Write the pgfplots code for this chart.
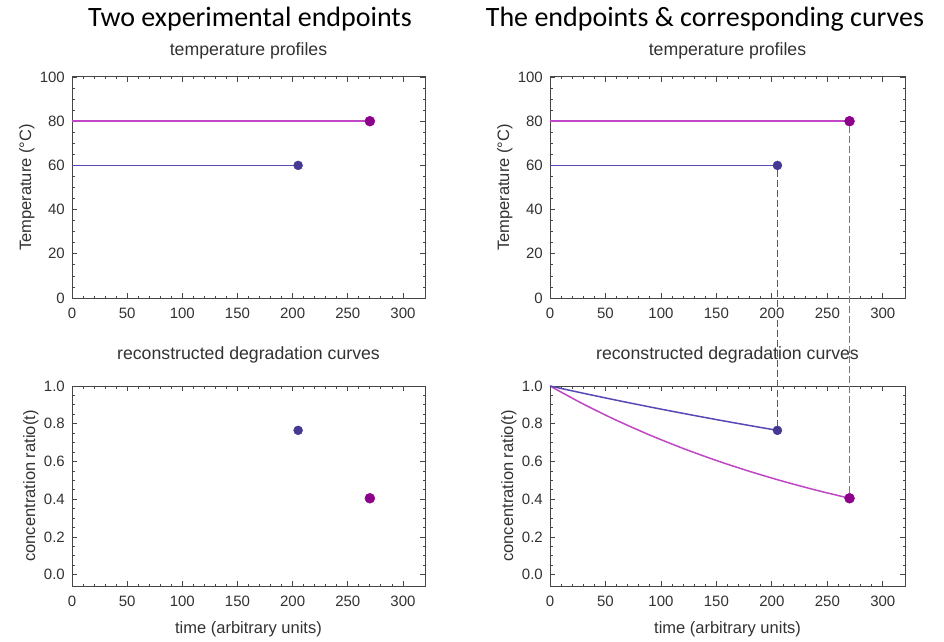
\documentclass[border=0pt]{standalone}
\usepackage{pgfplots}
\pgfplotsset{compat=1.18}
\usepackage{fontspec}
\setmainfont{Liberation Sans}
\newfontfamily\titlefont{Carlito}
\definecolor{blueDot}{RGB}{68,58,148}
\definecolor{blueLine}{RGB}{88,72,182}
\definecolor{magDot}{RGB}{140,0,140}
\definecolor{magLine}{RGB}{192,70,198}
\definecolor{frameC}{RGB}{70,70,70}
\definecolor{txtC}{RGB}{50,50,50}

\pgfplotsset{
  base/.style={
    scale only axis, anchor=south west, clip=false,
    xmin=0, xmax=320,
    xtick={0,50,100,150,200,250,300},
    xticklabels={0,50,100,150,200,250,300},
    minor x tick num=4,
    tick align=inside,
    major tick length=5pt, minor tick length=2.5pt,
    axis line style={frameC, line width=1pt},
    every tick/.style={frameC, line width=0.8pt},
    tick label style={font=\fontsize{15}{17}\selectfont, text=txtC},
    xticklabel style={anchor=base, yshift=-20pt, inner sep=0pt},
    yticklabel style={anchor=east, xshift=-7pt, inner sep=0pt},
    label style={font=\fontsize{16.5}{20}\selectfont, text=txtC},
    xlabel style={at={(axis description cs:0.5,0)}, anchor=base, yshift=-47pt},
    title style={font=\fontsize{17.7}{21}\selectfont, text=txtC, at={(0.5,1)}, anchor=base},
  },
  topax/.style={base, height=221pt,
    ymin=0, ymax=100, ytick={0,20,40,60,80,100},
    yticklabels={0,20,40,60,80,100}, minor y tick num=3,
    title={temperature profiles}, title style={yshift=15pt},
    ylabel={Temperature (°C)},
    ylabel style={anchor=base},
  },
  botax/.style={base, height=200pt,
    ymin=-0.06, ymax=1.0, ytick={0,0.2,0.4,0.6,0.8,1.0},
    yticklabels={0.0,0.2,0.4,0.6,0.8,1.0}, minor y tick num=3,
    title={reconstructed degradation curves}, title style={yshift=21pt},
    xlabel={time (arbitrary units)},
    ylabel={concentration ratio(t)},
    ylabel style={anchor=base},
  },
}

\begin{document}
\begin{tikzpicture}
\path[use as bounding box] (0,0) rectangle (944pt,641pt);

\node[anchor=base, font=\titlefont\fontsize{28}{32}\selectfont] at (250pt,614pt) {Two experimental endpoints};
\node[anchor=base, font=\titlefont\fontsize{28}{32}\selectfont] at (705pt,614pt) {The endpoints \& corresponding curves};

% top left
\begin{axis}[topax, width=353pt, at={(72pt,343pt)},
  ylabel style={at={(axis description cs:-0.1161,0.5)}}]
\addplot[color=magLine, line width=1.8pt] coordinates {(0,80) (270,80)};
\addplot[color=blueLine, line width=1.5pt] coordinates {(0,60) (205,60)};
\addplot[only marks, mark=*, mark size=5pt, color=magDot] coordinates {(270,80)};
\addplot[only marks, mark=*, mark size=4.5pt, color=blueDot] coordinates {(205,60)};
\end{axis}

% bottom left
\begin{axis}[botax, width=353pt, at={(72pt,55pt)},
  ylabel style={at={(axis description cs:-0.1048,0.5)}}]
\addplot[only marks, mark=*, mark size=4.5pt, color=blueDot] coordinates {(205,0.765)};
\addplot[only marks, mark=*, mark size=5pt, color=magDot] coordinates {(270,0.405)};
\end{axis}

% top right
\begin{axis}[topax, width=355pt, at={(550pt,343pt)},
  ylabel style={at={(axis description cs:-0.1155,0.5)}}]
\addplot[color=magLine, line width=1.8pt] coordinates {(0,80) (270,80)};
\addplot[color=blueLine, line width=1.5pt] coordinates {(0,60) (205,60)};
\addplot[only marks, mark=*, mark size=5pt, color=magDot] coordinates {(270,80)};
\addplot[only marks, mark=*, mark size=4.5pt, color=blueDot] coordinates {(205,60)};
\coordinate (tb) at (axis cs:205,60);
\coordinate (tm) at (axis cs:270,80);
\end{axis}

% bottom right
\begin{axis}[botax, width=355pt, at={(550pt,55pt)},
  ylabel style={at={(axis description cs:-0.1042,0.5)}}]
\addplot[color=magLine, line width=1.5pt, smooth] coordinates {
(0,1.0) (30,0.9044) (60,0.8180) (90,0.7399) (120,0.6692) (150,0.6052)
(180,0.5474) (210,0.4951) (240,0.4478) (270,0.405)};
\addplot[color=blueLine, line width=1.5pt, smooth] coordinates {
(0,1.0) (30,0.9616) (60,0.9246) (90,0.8890) (120,0.8549) (150,0.8220)
(180,0.7904) (205,0.765)};
\addplot[only marks, mark=*, mark size=4.5pt, color=blueDot] coordinates {(205,0.765)};
\addplot[only marks, mark=*, mark size=5pt, color=magDot] coordinates {(270,0.405)};
\coordinate (bb) at (axis cs:205,0.765);
\coordinate (bm) at (axis cs:270,0.405);
\end{axis}

\draw[draw=blueLine, line width=1.4pt, dash pattern=on 7pt off 3pt, shorten <=4.5pt, shorten >=4.5pt] (tb) -- (bb);
\draw[draw=magLine, line width=1.4pt, dash pattern=on 7pt off 3pt, shorten <=5pt, shorten >=5pt] (tm) -- (bm);
\end{tikzpicture}
\end{document}
